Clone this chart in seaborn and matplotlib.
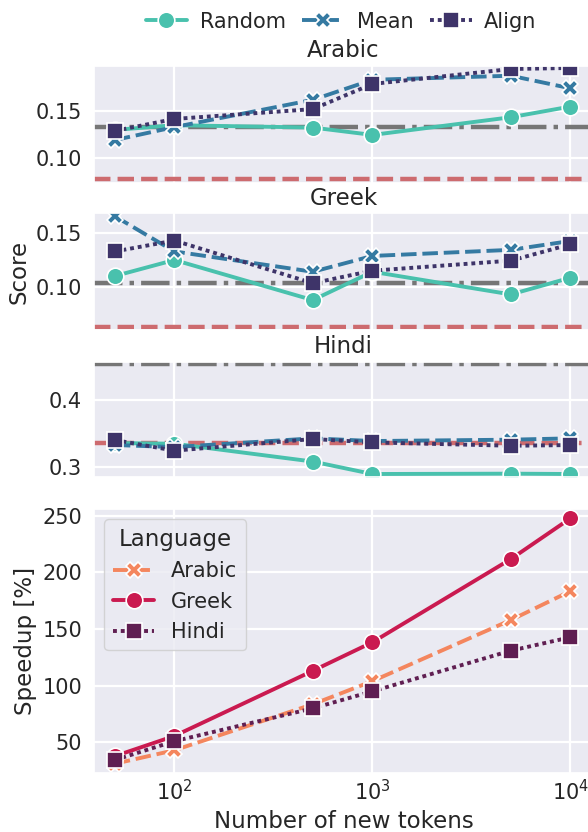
import matplotlib
matplotlib.use("Agg")
import matplotlib.pyplot as plt
import numpy as np
import pandas as pd
import seaborn as sns

# ---------------- data ----------------
tokens = [50, 100, 500, 1000, 5000, 10000]
methods = ["Random", "Mean", "Align"]
languages = ["Arabic", "Greek", "Hindi"]

arabic_random = [0.130, 0.135, 0.1325, 0.1247, 0.1434, 0.1547]
arabic_mean = [0.1193, 0.133, 0.1618, 0.1830, 0.1873, 0.1740]
arabic_align = [0.129, 0.1416, 0.1520, 0.1786, 0.1944, 0.1955]

greek_random = [0.110, 0.125, 0.0875, 0.114, 0.0928, 0.1084]
greek_mean = [0.166, 0.133, 0.114, 0.1288, 0.1345, 0.1428]
greek_align = [0.133, 0.1432, 0.1033, 0.115, 0.1244, 0.1397]

hindi_random = [0.336, 0.335, 0.3085, 0.290, 0.2905, 0.290]
hindi_mean = [0.3331, 0.330, 0.343, 0.339, 0.341, 0.343]
hindi_align = [0.3405, 0.3247, 0.342, 0.337, 0.332, 0.333]

baseline_gray = [0.1334, 0.1032, 0.453]   # per language
baseline_red = [0.0778, 0.0625, 0.3366]   # per language

speedup_arabic = [31.1, 43.0, 83.6, 104.0, 157.9, 183.4]
speedup_greek = [37.8, 55.6, 113.1, 138.3, 211.7, 247.7]
speedup_hindi = [34.4, 51.0, 80.0, 95.0, 130.9, 142.7]

score_ticks = [[0.10, 0.15], [0.10, 0.15], [0.3, 0.4]]

# ---------------- tables ----------------
score_series = {
    "Arabic": {"Random": arabic_random, "Mean": arabic_mean, "Align": arabic_align},
    "Greek": {"Random": greek_random, "Mean": greek_mean, "Align": greek_align},
    "Hindi": {"Random": hindi_random, "Mean": hindi_mean, "Align": hindi_align},
}
rows = []
for lang in languages:
    for m in methods:
        for t, v in zip(tokens, score_series[lang][m]):
            rows.append({"Language": lang, "Method": m, "tokens": t, "Score": v})
score_df = pd.DataFrame(rows)

speed_series = {"Arabic": speedup_arabic, "Greek": speedup_greek, "Hindi": speedup_hindi}
rows = []
for lang in languages:
    for t, v in zip(tokens, speed_series[lang]):
        rows.append({"Language": lang, "tokens": t, "Speedup": v})
speed_df = pd.DataFrame(rows)

# ---------------- style ----------------
sns.set_theme(style="darkgrid")
plt.rcParams.update({
    "font.family": ["DejaVu Sans"],
    "xtick.labelsize": 15,
    "ytick.labelsize": 15,
    "axes.labelsize": 16.5,
    "axes.titlesize": 16.5,
    "legend.fontsize": 15,
    "legend.title_fontsize": 16.5,
    "grid.linewidth": 1.6,
    "xtick.major.size": 0,
    "ytick.major.size": 0,
    "xtick.minor.size": 0,
    "ytick.minor.size": 0,
    "xtick.major.pad": 4.5,
    "ytick.major.pad": 8.5,
})

W, H = 588, 832
fig = plt.figure(figsize=(W / 100, H / 100), dpi=100)

left = 94 / W
width = 499 / W
xlim = (10 ** 1.594, 10 ** 4.114)

def add_ax(top_px, bottom_px):
    return fig.add_axes([left, 1 - bottom_px / H, width, (bottom_px - top_px) / H])

score_axes = [add_ax(65.7, 182.7), add_ax(213.3, 330.0), add_ax(361.7, 476.7)]
ax_speed = add_ax(509.0, 772.7)

score_ylims = [(0.0742, 0.1979), (0.0595, 0.1687), (0.286, 0.4569)]

mako = sns.color_palette("mako_r", 3)
line_kws = dict(linewidth=2.8, markersize=12, markeredgewidth=1.2, markeredgecolor="white")

for i, (ax, lang) in enumerate(zip(score_axes, languages)):
    ax.set_xscale("log")
    sub = score_df[score_df["Language"] == lang]
    sns.lineplot(data=sub, x="tokens", y="Score", hue="Method", style="Method",
                 hue_order=methods, style_order=methods, palette=mako,
                 markers={"Random": "o", "Mean": "X", "Align": "s"},
                 dashes={"Random": "", "Mean": (4, 1.5), "Align": (1, 1)},
                 ax=ax, legend=(i == 0), **line_kws)
    ax.axhline(baseline_gray[i], color="#767676", linestyle="-.", linewidth=3.2, zorder=1.5)
    ax.axhline(baseline_red[i], color="#CD6B6F", linestyle="--", linewidth=3.2, zorder=1.5)
    ax.set_xlim(*xlim)
    ax.set_ylim(*score_ylims[i])
    ax.set_yticks(score_ticks[i])
    ax.set_title(lang)
    ax.set_xlabel("")
    ax.set_ylabel("Score" if lang == "Greek" else "")
    ax.tick_params(labelbottom=False)

# top legend
leg = score_axes[0].get_legend()
handles = leg.legend_handles
labels = [t.get_text() for t in leg.get_texts()]
leg.remove()
fig.legend(handles, labels, loc="center", bbox_to_anchor=(341 / W, 1 - 21.7 / H),
           ncol=3, frameon=False, handletextpad=0.6, columnspacing=0.8)

# speedup
rocket = sns.color_palette("rocket_r", 3)
ax_speed.set_xscale("log")
sns.lineplot(data=speed_df, x="tokens", y="Speedup", hue="Language", style="Language",
             hue_order=languages, style_order=languages, palette=rocket,
             markers={"Arabic": "X", "Greek": "o", "Hindi": "s"},
             dashes={"Arabic": (4, 1.5), "Greek": "", "Hindi": (1, 1)},
             ax=ax_speed, **line_kws)
ax_speed.set_xlim(*xlim)
ax_speed.set_ylim(23.2, 255.9)
ax_speed.set_yticks([50, 100, 150, 200, 250])
ax_speed.set_xlabel("Number of new tokens")
ax_speed.set_ylabel("Speedup [%]")
sns.move_legend(ax_speed, "upper left", title="Language")

fig.savefig("out.png", dpi=100)
